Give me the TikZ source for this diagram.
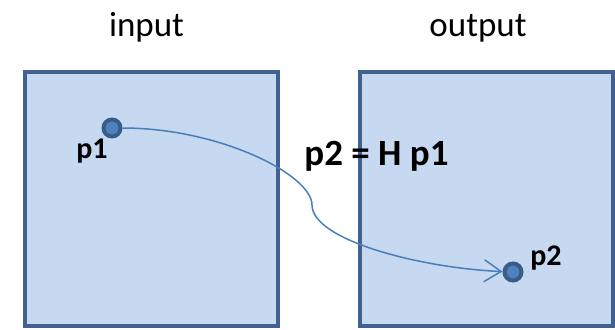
\documentclass[tikz,border=0pt]{standalone}
\usepackage{fontspec}
\setmainfont{Carlito}
\usepackage{xcolor}
\usepackage{tikz}
\usetikzlibrary{arrows.meta}

\definecolor{boxfill}{RGB}{198,217,240}
\definecolor{boxline}{RGB}{65,97,145}
\definecolor{dotfill}{RGB}{79,129,189}
\definecolor{dotline}{RGB}{56,93,138}
\definecolor{mapline}{RGB}{74,126,187}

\tikzset{
    imgbox/.style={draw=boxline, fill=boxfill, line width=4pt,
        minimum width=253pt, minimum height=254pt, inner sep=0pt},
    pointdot/.style={circle, draw=dotline, fill=dotfill, line width=4pt,
        minimum size=17pt, inner sep=0pt},
    title/.style={anchor=base, font=\fontsize{35}{42}\selectfont},
    ptlabel/.style={anchor=base, font=\fontsize{30}{36}\selectfont\bfseries}
}

\begin{document}
\begin{tikzpicture}[x=1pt, y=-1pt]
    \useasboundingbox (0,0) rectangle (615,329);
    % Draw the two images
    \node[imgbox] (inbox) at (151.5,199) {};
    \node[imgbox] (outbox) at (486.5,199) {};
    % Titles
    \node[title] (intitle) at (146.5,37) {input};
    \node[title] (outtitle) at (478,37) {output};
    % Mapping
    \node[anchor=base, font=\fontsize{37}{44}\selectfont\bfseries] (hmap) at (376.5,165) {p2 = H p1};
    % Points
    \node[pointdot] (p1dot) at (112,128) {};
    \node[pointdot] (p2dot) at (513,272) {};
    \node[ptlabel] (p1lab) at (92,158) {p1};
    \node[ptlabel] (p2lab) at (546,265) {p2};
    % Draw the curved arrow
    \coordinate (bend) at (312,205);
    \draw[mapline, line width=1.5pt, -{Straight Barb[length=17pt, width=22pt]}]
        (p1dot) .. controls (220,128) and (312,175) .. (bend)
        .. controls (312,240) and (420,268) .. (p2dot);
\end{tikzpicture}
\end{document}
